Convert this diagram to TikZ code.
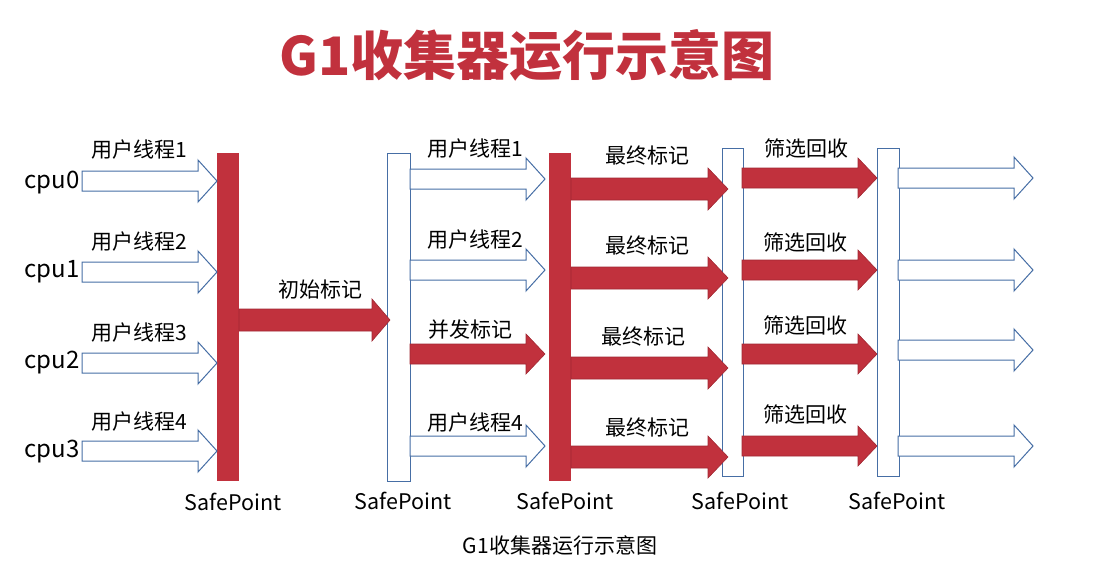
\documentclass[tikz,border=0pt]{standalone}
\usepackage{fontspec}
\setmainfont{Noto Sans CJK SC}
\definecolor{gred}{RGB}{193,49,61}
\definecolor{gredd}{RGB}{160,40,50}
\definecolor{gblue}{RGB}{70,110,165}
\tikzset{
  redarrow/.style={fill=gred,draw=gredd,line width=0.6pt},
  bluearrow/.style={fill=white,draw=gblue,line width=1pt},
  redbar/.style={fill=gred,draw=none},
  bluebar/.style={fill=white,draw=gblue,line width=1pt},
  lbl/.style={inner sep=0pt,font=\fontsize{21}{25}\selectfont},
  splbl/.style={inner sep=0pt,font=\fontsize{21.5}{25}\selectfont},
  cpulbl/.style={inner sep=0pt,font=\fontsize{24}{28}\selectfont},
}
% style, x start, x tip, y, shaft half width, head half width, head length
\newcommand\blockarrow[7]{%
  \draw[#1] (#2,#4-#5) -- (#3-#7,#4-#5) -- (#3-#7,#4-#6) -- (#3,#4)
    -- (#3-#7,#4+#6) -- (#3-#7,#4+#5) -- (#2,#4+#5) -- cycle;}
\begin{document}
\begin{tikzpicture}[x=1pt,y=-1pt]
\useasboundingbox (0,0) rectangle (1093,568);
% title
\node[inner sep=0pt,text=gred,font=\fontsize{53}{58}\selectfont\bfseries] (title) at (527,55) {G1收集器运行示意图};
% bars
\draw[redbar] (217,153) rectangle (239,481);
\draw[bluebar] (387,153) rectangle (410,481);
\draw[redbar] (549,153) rectangle (571,481);
\draw[bluebar] (722,148) rectangle (743,476);
\draw[bluebar] (877,148) rectangle (899,476);
% column 1
\foreach \y in {181,272,363,451} \blockarrow{bluearrow}{82}{217}{\y}{10}{21}{19};
% initial mark
\blockarrow{redarrow}{239}{390}{320}{11}{21}{18}
% column 3
\foreach \y in {179,270,446} \blockarrow{bluearrow}{410}{545}{\y}{10}{21}{19};
\blockarrow{redarrow}{410}{545}{354}{10}{20}{19}
% column 4
\foreach \y in {189,278,368,457} \blockarrow{redarrow}{571}{728}{\y}{11}{21}{20};
% column 5
\foreach \y in {178,270,354,446} \blockarrow{redarrow}{742}{877}{\y}{10}{20}{19};
% column 6
\foreach \y in {178,270,350,446} \blockarrow{bluearrow}{898}{1033}{\y}{10}{21}{19};
% cpu labels
\node[cpulbl] (cpu0) at (52,183) {cpu0};
\node[cpulbl] (cpu1) at (52,272) {cpu1};
\node[cpulbl] (cpu2) at (52,363) {cpu2};
\node[cpulbl] (cpu3) at (52,452) {cpu3};
% labels col1
\node[lbl] (a1) at (139,150) {用户线程1};
\node[lbl] (a2) at (139,242) {用户线程2};
\node[lbl] (a3) at (139,333) {用户线程3};
\node[lbl] (a4) at (139,422) {用户线程4};
\node[lbl] (init) at (320,290) {初始标记};
% labels col3
\node[lbl] (b1) at (475,149) {用户线程1};
\node[lbl] (b2) at (475,240) {用户线程2};
\node[lbl] (b3) at (470,330) {并发标记};
\node[lbl] (b4) at (475,423) {用户线程4};
% labels col4
\node[lbl] (c1) at (647,156) {最终标记};
\node[lbl] (c2) at (647,246) {最终标记};
\node[lbl] (c3) at (643,337) {最终标记};
\node[lbl] (c4) at (647,428) {最终标记};
% labels col5
\node[lbl] (d1) at (806,148) {筛选回收};
\node[lbl] (d2) at (805,242) {筛选回收};
\node[lbl] (d3) at (805,325) {筛选回收};
\node[lbl] (d4) at (805,414) {筛选回收};
% safepoints
\node[splbl] (s1) at (233,502) {SafePoint};
\node[splbl] (s2) at (403,501) {SafePoint};
\node[splbl] (s3) at (565,501) {SafePoint};
\node[splbl] (s4) at (740,501) {SafePoint};
\node[splbl] (s5) at (897,501) {SafePoint};
% caption
\node[lbl] (caption) at (560,545) {G1收集器运行示意图};
\end{tikzpicture}
\end{document}
